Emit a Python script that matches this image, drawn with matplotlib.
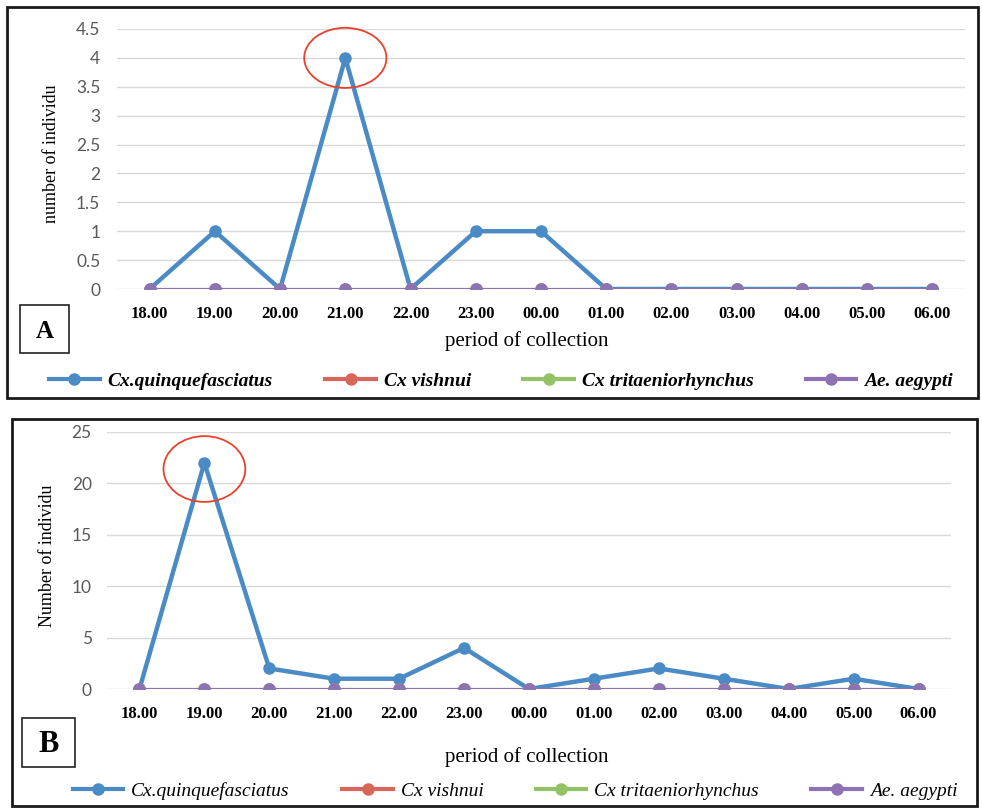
import matplotlib
matplotlib.use("Agg")
import matplotlib.pyplot as plt
from matplotlib.patches import Ellipse, Rectangle

periods = ["18.00", "19.00", "20.00", "21.00", "22.00", "23.00", "00.00",
           "01.00", "02.00", "03.00", "04.00", "05.00", "06.00"]
species = ["Cx.quinquefasciatus", "Cx vishnui", "Cx tritaeniorhynchus", "Ae. aegypti"]

# panel A counts
a_quinq = [0, 1, 0, 4, 0, 1, 1, 0, 0, 0, 0, 0, 0]
a_vish = [0] * 13
a_trit = [0] * 13
a_aeg = [0] * 13

# panel B counts
b_quinq = [0, 22, 2, 1, 1, 4, 0, 1, 2, 1, 0, 1, 0]
b_vish = [0] * 13
b_trit = [0] * 13
b_aeg = [0] * 13

a_ticks = [0, 0.5, 1, 1.5, 2, 2.5, 3, 3.5, 4, 4.5]
a_ticklabels = ["0", "0.5", "1", "1.5", "2", "2.5", "3", "3.5", "4", "4.5"]
b_ticks = [0, 5, 10, 15, 20, 25]

colors = ["#4a8bc6", "#d9665b", "#93c267", "#8d72b4"]
SERIF = "Liberation Serif"
SANS = "Lato"

W, H = 982, 808
fig = plt.figure(figsize=(W / 100, H / 100), dpi=100)


def fx(px):
    return px / W


def fy(py):
    return 1 - py / H


def panel(rect, series, yticks, yticklabels, ylim, ylabel, ylabel_x, ypad,
          letter, letter_box, letter_size, xlabel_y, legend_xy, legend_style,
          circle):
    ax = fig.add_axes(rect)
    x = list(range(len(periods)))
    lws = [3.2, 1.5, 1.5, 1.5]
    for s, c, lw, name in zip(series, colors, lws, species):
        ax.plot(x, s, "-o", color=c, lw=lw, ms=8, label=name, zorder=3)
    ax.set_xlim(-0.5, len(periods) - 0.5)
    ax.set_ylim(*ylim)
    ax.set_yticks(yticks)
    ax.set_yticklabels(yticklabels, family=SANS, fontsize=12.5, color="#595959")
    ax.set_xticks(x)
    ax.set_xticklabels(periods, family=SERIF, fontsize=12, fontweight="bold")
    ax.tick_params(axis="y", length=0, pad=ypad)
    ax.tick_params(axis="x", length=0, pad=12)
    ax.grid(axis="y", color="#d9d9d9", lw=1)
    ax.set_axisbelow(True)
    for sp in ax.spines.values():
        sp.set_visible(False)

    fig.text(fx(ylabel_x), rect[1] + rect[3] * 0.52, ylabel, family=SERIF,
             fontsize=13, rotation=90, ha="center", va="center")
    fig.text(fx(527), fy(xlabel_y), "period of collection", family=SERIF,
             fontsize=15, ha="center", va="center")

    bx0, by0, bx1, by1 = letter_box
    fig.patches.append(Rectangle((fx(bx0), fy(by1)), fx(bx1 - bx0),
                                 (by1 - by0) / H, transform=fig.transFigure,
                                 fill=False, ec="#222222", lw=1.2))
    fig.text(fx((bx0 + bx1) / 2), fy((by0 + by1) / 2 + 2), letter, family=SERIF,
             fontsize=letter_size, fontweight="bold", ha="center", va="center")

    cx, cy, cw, ch = circle
    ax.add_patch(Ellipse((cx, cy), cw, ch, fill=False, ec="#e8412c", lw=1.3,
                         zorder=5, clip_on=False))

    leg = ax.legend(loc="center",
                    bbox_to_anchor=(fx(legend_xy[0]), fy(legend_xy[1])),
                    bbox_transform=fig.transFigure, ncol=4, frameon=False,
                    handlelength=2.6, columnspacing=2.7, handletextpad=0.4,
                    prop=dict(family=SERIF, size=14, **legend_style))
    # legend swatches are all drawn thick, like the spreadsheet legend
    for h in leg.get_lines():
        h.set_linewidth(3.0)
    return ax


# outer frames
fig.patches.append(Rectangle((fx(7), fy(398)), fx(971), 391 / H,
                             transform=fig.transFigure, fill=False,
                             ec="#1a1a1a", lw=2))
fig.patches.append(Rectangle((fx(12), fy(806)), fx(965), 387 / H,
                             transform=fig.transFigure, fill=False,
                             ec="#1a1a1a", lw=2))

panel([fx(117), fy(289), fx(965 - 117), (289 - 29) / H],
      [a_quinq, a_vish, a_trit, a_aeg], a_ticks, a_ticklabels, (0, 4.5),
      "number of individu", 52, 12, "A", (20, 305, 69, 353), 18, 341,
      (501, 381), dict(weight="bold", style="italic"), (3, 4.0, 1.26, 1.04))

panel([fx(107), fy(689), fx(951 - 107), (689 - 432) / H],
      [b_quinq, b_vish, b_trit, b_aeg], b_ticks, [str(t) for t in b_ticks],
      (0, 25), "Number of individu", 48, 11, "B", (22, 718, 75, 767), 22, 757,
      (515, 791), dict(style="italic"), (1, 21.4, 1.26, 6.4))

fig.savefig("out.png", dpi=100)
